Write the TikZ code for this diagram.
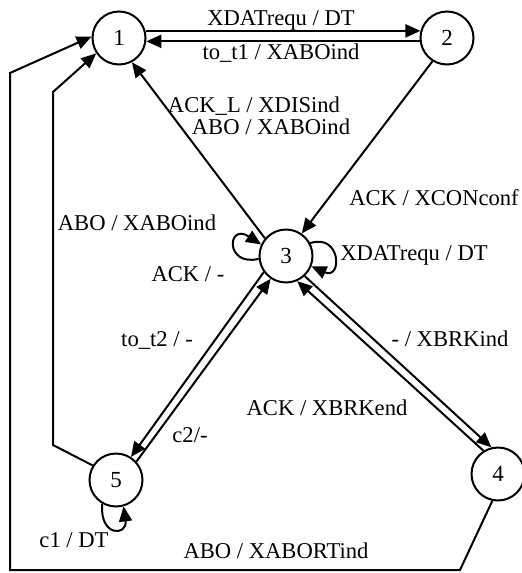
\documentclass[tikz,border=0pt]{standalone}
\usepackage{fontspec}
\setmainfont{Liberation Serif}
\usetikzlibrary{arrows.meta}
\begin{document}
\begin{tikzpicture}[x=0.5pt,y=-0.5pt,
  state/.style={circle,draw,line width=1pt,minimum size=26.5pt,inner sep=0pt,font=\fontsize{11.5}{13}\selectfont},
  tr/.style={line width=1pt,-{Triangle[length=7.5pt,width=6.5pt]}},
  lbl/.style={font=\fontsize{11.3}{13}\selectfont,inner sep=0pt}]
\useasboundingbox (0,0) rectangle (521,573);
% states
\node[state] (n1) at (119,38) {1};
\node[state] (n2) at (447,38) {2};
\node[state] (n3) at (286,256) {3};
\node[state] (n4) at (498,474) {4};
\node[state] (n5) at (116,480) {5};
% corner coordinates
\coordinate (c51a) at (53,445);
\coordinate (c51b) at (53,92);
\coordinate (c41a) at (460,570);
\coordinate (c41b) at (10,570);
\coordinate (c41c) at (10,73);
% transitions
\draw[tr] (n1.15) -- (n2.165);
\draw[tr] (n2.187) -- (n1.-7);
\draw[tr] (n3.140) -- (n1.-62);
\draw[tr] (n2.238) -- (n3.55);
\draw[tr] (n3.216) -- (n5.57);
\draw[tr] (n5.42) -- (n3.236);
\draw[tr] (n3.-47) -- (n4.104);
\draw[tr] (n4.122) -- (n3.-66);
\draw[tr] (n5.148) -- (c51a) -- (c51b) -- (n1.214);
\draw[tr] (n4.258) -- (c41a) -- (c41b) -- (c41c) -- (n1.177);
% self loops
\draw[tr] (n3.186) .. controls +(-34,8) and +(-34,-22) .. (n3.155);
\draw[tr] (n3.28) .. controls +(31,-10) and +(31,14) .. (n3.-22);
\draw[tr] (n5.240) .. controls +(-3,33) and +(4,30) .. (n5.286);
% labels
\node[lbl] (l12) at (281,20) {XDATrequ / DT};
\node[lbl] (l21) at (281,53) {to\_t1 / XABOind};
\node[lbl] (l31a) at (254,106) {ACK\_L / XDISind};
\node[lbl] (l31b) at (271,127) {ABO / XABOind};
\node[lbl] (l23) at (434,198) {ACK / XCONconf};
\node[lbl] (l33a) at (188,274) {ACK / -};
\node[lbl] (l33b) at (414,255) {XDATrequ / DT};
\node[lbl] (l35) at (157,340) {to\_t2 / -};
\node[lbl] (l53) at (190,435) {c2/-};
\node[lbl] (l34) at (450,339) {- / XBRKind};
\node[lbl] (l43) at (327,408) {ACK / XBRKend};
\node[lbl] (l51) at (137,223) {ABO / XABOind};
\node[lbl] (l41) at (276,551) {ABO / XABORTind};
\node[lbl] (l55) at (74,540) {c1 / DT};
\end{tikzpicture}
\end{document}
